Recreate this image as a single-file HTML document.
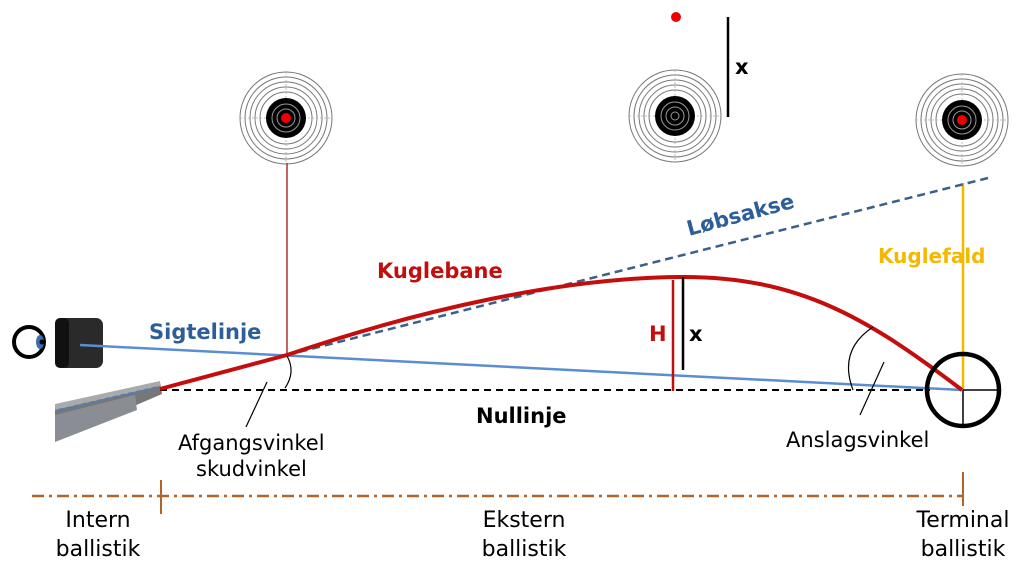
<!DOCTYPE html>
<html><head><meta charset="utf-8"><style>
html,body{margin:0;padding:0;background:#fff;}
svg{display:block;}
.b{font-family:"DejaVu Sans","Liberation Sans",sans-serif;font-weight:bold;}
.n{font-family:"DejaVu Sans","Liberation Sans",sans-serif;}
</style></head><body>
<svg width="1024" height="579" viewBox="0 0 1024 579" xmlns="http://www.w3.org/2000/svg">
<defs>
<g id="tg">
<circle r="46" fill="#fff" stroke="#777" stroke-width="1"/>
<circle r="41" fill="none" stroke="#777" stroke-width="1"/>
<circle r="36" fill="none" stroke="#777" stroke-width="1"/>
<circle r="31" fill="none" stroke="#777" stroke-width="1"/>
<circle r="26" fill="none" stroke="#777" stroke-width="1"/>
<line x1="-46" y1="0" x2="46" y2="0" stroke="#aaa" stroke-width="0.8" stroke-dasharray="2 2"/>
<line x1="0" y1="-46" x2="0" y2="46" stroke="#aaa" stroke-width="0.8" stroke-dasharray="2 2"/>
<circle r="20" fill="#000"/>
<circle r="14" fill="none" stroke="#999" stroke-width="1"/>
<circle r="9" fill="none" stroke="#999" stroke-width="1"/>
</g>
</defs>
<use href="#tg" x="286" y="118"/>
<circle cx="286" cy="118" r="5" fill="#e00"/>
<use href="#tg" x="675" y="116"/>
<circle cx="675" cy="116" r="4" fill="none" stroke="#999"/>
<use href="#tg" x="962" y="120"/>
<circle cx="962" cy="120" r="5" fill="#e00"/>

<circle cx="676" cy="17" r="5" fill="#e00"/>
<line x1="728" y1="17" x2="728" y2="117" stroke="#000" stroke-width="2.5"/>
<text x="735" y="74" class="b" font-size="21">x</text>

<line x1="287" y1="163" x2="287" y2="355" stroke="#a33" stroke-width="1.5"/>
<line x1="963" y1="183" x2="963" y2="390" stroke="#f5b800" stroke-width="2.5"/>

<!-- eye & scope -->
<circle cx="29" cy="342" r="15" fill="#fff" stroke="#000" stroke-width="4"/>
<ellipse cx="40" cy="342" rx="4" ry="7" fill="#3a6fb0"/>
<circle cx="42" cy="342" r="2.5" fill="#000"/>
<rect x="55" y="318" width="48" height="50" rx="7" fill="#2a2a2a"/>
<rect x="55" y="318" width="14" height="50" rx="5" fill="#111"/>

<!-- barrel -->
<polygon points="55,406 160,382 162,394 55,440" fill="#777"/>
<polygon points="55,415 135,395 137,410 55,442" fill="#8a8e94"/>
<polygon points="55,404 160,381 160,386 55,410" fill="#aaa"/>
<line x1="58" y1="410" x2="158" y2="387" stroke="#4a7fc0" stroke-width="2" stroke-dasharray="5 3"/>

<!-- lines -->
<line x1="80" y1="345" x2="962" y2="390" stroke="#5b8ed0" stroke-width="2.5"/>
<line x1="160" y1="390" x2="930" y2="390" stroke="#000" stroke-width="2" stroke-dasharray="7 5"/>
<line x1="287" y1="355" x2="988" y2="178" stroke="#3a5f8a" stroke-width="2.5" stroke-dasharray="8 5"/>
<path d="M160,389 L287,355 C420,310 560,278 680,277 C800,276 870,320 962,390" fill="none" stroke="#c40d0d" stroke-width="4"/>

<!-- H and x -->
<line x1="673" y1="280" x2="673" y2="391" stroke="#c40d0d" stroke-width="2.5"/>
<line x1="683" y1="277" x2="683" y2="370" stroke="#000" stroke-width="2.5"/>
<text x="649" y="341" class="b" font-size="21" fill="#c40d0d">H</text>
<text x="689" y="341" class="b" font-size="21">x</text>

<!-- angle arcs -->
<path d="M287,356 Q296,372 285,388" fill="none" stroke="#000" stroke-width="1.2"/>
<line x1="267" y1="382" x2="246" y2="427" stroke="#000" stroke-width="1.2"/>
<path d="M873,327 Q838,350 853,390" fill="none" stroke="#000" stroke-width="1.2"/>
<line x1="884" y1="362" x2="860" y2="415" stroke="#000" stroke-width="1.2"/>

<!-- reticle -->
<circle cx="963" cy="390" r="36" fill="none" stroke="#000" stroke-width="4.5"/>
<line x1="963" y1="390" x2="999" y2="390" stroke="#000" stroke-width="1.5"/>
<line x1="963" y1="390" x2="963" y2="426" stroke="#000" stroke-width="1.5"/>

<!-- labels -->
<text x="149" y="339" class="b" font-size="21" fill="#2e5e99">Sigtelinje</text>
<text x="377" y="278" class="b" font-size="21" fill="#c40d0d">Kuglebane</text>
<text x="689" y="236" class="b" font-size="21" fill="#2e5e99" transform="rotate(-15 689 236)">Løbsakse</text>
<text x="878" y="263" class="b" font-size="20" fill="#f5b800">Kuglefald</text>
<text x="476" y="423" class="b" font-size="21">Nullinje</text>
<text x="178" y="450" class="n" font-size="21">Afgangsvinkel</text>
<text x="196" y="476" class="n" font-size="21">skudvinkel</text>
<text x="786" y="447" class="n" font-size="21">Anslagsvinkel</text>

<!-- bottom scale -->
<line x1="32" y1="496" x2="963" y2="496" stroke="#b0642a" stroke-width="2.5" stroke-dasharray="12 5 3 5"/>
<line x1="161" y1="480" x2="161" y2="514" stroke="#b0642a" stroke-width="2"/>
<line x1="963" y1="472" x2="963" y2="506" stroke="#b0642a" stroke-width="2"/>
<g class="n" font-size="22" fill="#000">
<text x="98" y="527" text-anchor="middle">Intern</text>
<text x="98" y="556" text-anchor="middle">ballistik</text>
<text x="524" y="527" text-anchor="middle">Ekstern</text>
<text x="524" y="556" text-anchor="middle">ballistik</text>
<text x="963" y="527" text-anchor="middle">Terminal</text>
<text x="963" y="556" text-anchor="middle">ballistik</text>
</g>
</svg>
</body></html>
